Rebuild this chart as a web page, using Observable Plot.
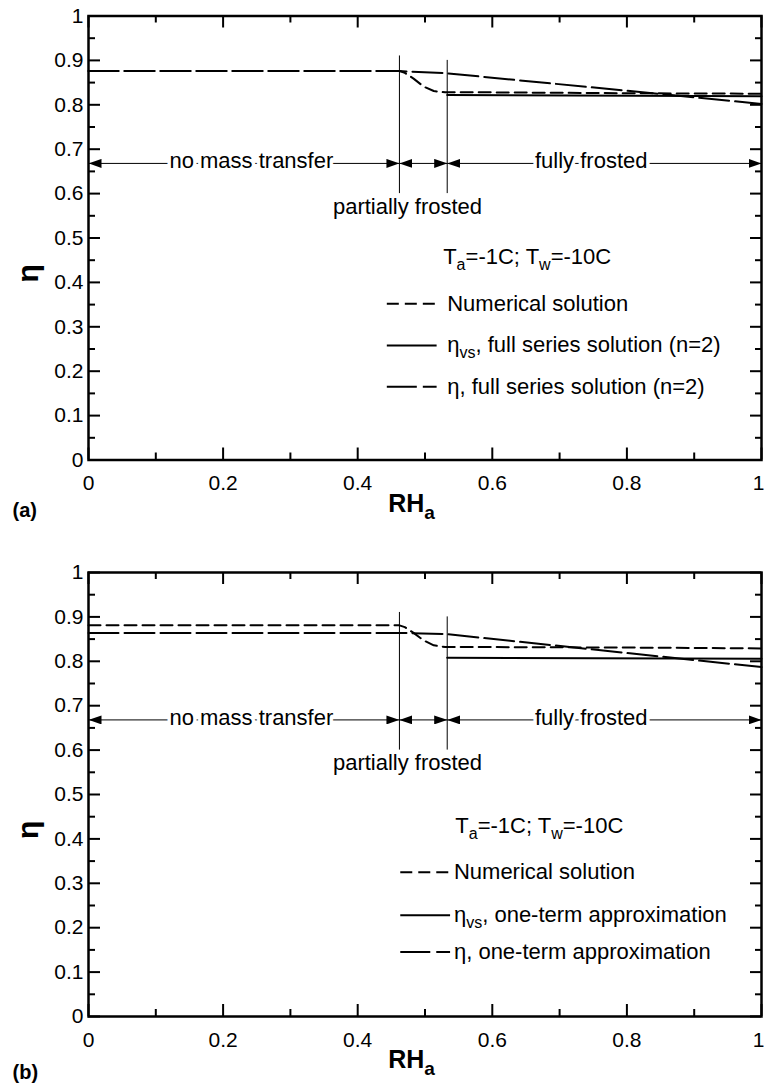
<!DOCTYPE html>
<html><head><meta charset="utf-8">
<script src="https://cdn.jsdelivr.net/npm/d3@7"></script>
<script src="https://cdn.jsdelivr.net/npm/@observablehq/plot@0.6"></script>
<style>
html,body{margin:0;padding:0;background:#fff;}
#chart svg{display:block;}
</style></head><body><div id="chart"></div>
<script>
// ---------- tick values / labels ----------
const xMajor = [0, 0.2, 0.4, 0.6, 0.8, 1];
const xMajorLabels = ["0", "0.2", "0.4", "0.6", "0.8", "1"];
const xMinor = [0.1, 0.3, 0.5, 0.7, 0.9];
const yMajor = [0, 0.1, 0.2, 0.3, 0.4, 0.5, 0.6, 0.7, 0.8, 0.9, 1];
const yMajorLabels = ["0", "0.1", "0.2", "0.3", "0.4", "0.5", "0.6", "0.7", "0.8", "0.9", "1"];
const yMinor = [0.05, 0.15, 0.25, 0.35, 0.45, 0.55, 0.65, 0.75, 0.85, 0.95];

// ---------- regimes ----------
const regionEdges = [0, 0.462, 0.533, 1];
const regionNames = ["no mass transfer", "partially frosted", "fully frosted"];

// ---------- panel (a) series ----------
const aNumRH  = [0, 0.462, 0.470, 0.483, 0.498, 0.513, 0.530, 0.600, 0.800, 1.000];
const aNumEta = [0.876, 0.876, 0.872, 0.859, 0.841, 0.831, 0.828, 0.828, 0.826, 0.825];
const aVsRH   = [0.533, 1.000];
const aVsEta  = [0.822, 0.819];
const aEtaRH  = [0, 0.462, 0.533, 1.000];
const aEtaEta = [0.876, 0.876, 0.871, 0.802];
const aLegend = ["Numerical solution", "η_{vs}, full series solution (n=2)", "η, full series solution (n=2)"];

// ---------- panel (b) series ----------
const bNumRH  = [0, 0.462, 0.470, 0.483, 0.498, 0.513, 0.530, 0.600, 0.800, 1.000];
const bNumEta = [0.881, 0.881, 0.877, 0.864, 0.847, 0.836, 0.832, 0.832, 0.831, 0.829];
const bVsRH   = [0.533, 1.000];
const bVsEta  = [0.808, 0.806];
const bEtaRH  = [0, 0.462, 0.533, 1.000];
const bEtaEta = [0.864, 0.864, 0.861, 0.787];
const bLegend = ["Numerical solution", "η_{vs}, one-term approximation", "η, one-term approximation"];

const conditions = "T_{a}=-1C; T_{w}=-10C";

// ---------- layout (positions / styles, not data) ----------
const FONT = "'Liberation Sans', Arial, Helvetica, sans-serif";
const dashes = ["12,6", "none", "30,6"];
const common = {arrowY: 0.668, vBottom: 0.60, vTops: [0.91, 0.90],
  labelX: [0.242, 0.474, 0.747], partialY: 0.57};

function toPts(xs, ys) { return xs.map((x, i) => ({x, y: ys[i]})); }

function panel(cfg) {
  const W = 764, H = 543;
  const pw = W - cfg.ml - cfg.mr, ph = H - cfg.mt - cfg.mb;
  const segs = regionEdges.slice(0, -1).map((x1, i) => ({x1, x2: regionEdges[i + 1]}));
  const fullLabels = [0, 2].map(i => ({x: common.labelX[i], text: regionNames[i]}));
  const rows = cfg.legend.map((t, i) => ({t, y: cfg.rowsY[i]}));
  const series = [toPts(cfg.numX, cfg.numY), toPts(cfg.vsX, cfg.vsY), toPts(cfg.etaX, cfg.etaY)];
  const nX = xMajor.length - 1;

  const marks = [
    // inward ticks on all four sides
    Plot.tickX(xMajor, {x: d => d, insetTop: ph - 12, strokeWidth: 2}),
    Plot.tickX(xMinor, {x: d => d, insetTop: ph - 7, strokeWidth: 2}),
    Plot.tickX(xMajor, {x: d => d, insetBottom: ph - 12, strokeWidth: 2}),
    Plot.tickX(xMinor, {x: d => d, insetBottom: ph - 7, strokeWidth: 2}),
    Plot.tickY(yMajor, {y: d => d, insetRight: pw - 12, strokeWidth: 2}),
    Plot.tickY(yMinor, {y: d => d, insetRight: pw - 7, strokeWidth: 2}),
    Plot.tickY(yMajor, {y: d => d, insetLeft: pw - 11, strokeWidth: 2}),
    Plot.tickY(yMinor, {y: d => d, insetLeft: pw - 6, strokeWidth: 2}),
    // data curves
    ...series.map((s, i) => Plot.line(s, {x: "x", y: "y", stroke: "black", strokeWidth: 2,
      strokeDasharray: dashes[i]})),
    // regime boundaries
    Plot.ruleX(regionEdges.slice(1, 3), {x: d => d, y1: common.vBottom, y2: (d, i) => common.vTops[i],
      stroke: "black", strokeWidth: 1}),
    // regime arrows
    Plot.link(segs, {x1: "x1", x2: "x2", y1: common.arrowY, y2: common.arrowY, stroke: "black", strokeWidth: 1}),
    Plot.text(fullLabels, {x: "x", y: common.arrowY, text: "text", fill: "black", stroke: "white",
      strokeWidth: 7, paintOrder: "stroke", fontSize: 22, dy: -2}),
    Plot.text([regionNames[1]], {x: common.labelX[1], y: common.partialY, text: d => d, fontSize: 22}),
    // legend
    Plot.text([conditions], {x: cfg.titleX, y: cfg.titleY, text: d => d, textAnchor: "start", fontSize: 22}),
    ...rows.map((r, i) => Plot.ruleY([r], {y: "y", x1: cfg.lx1, x2: cfg.lx2, stroke: "black", strokeWidth: 2,
      strokeDasharray: dashes[i]})),
    Plot.text(rows, {x: cfg.ltx, y: "y", text: "t", textAnchor: "start", fontSize: 22}),
    // tick labels
    Plot.text(xMajor.slice(0, nX), {x: d => d, text: (d, i) => xMajorLabels[i], frameAnchor: "bottom",
      lineAnchor: "top", dy: 15.5, fontSize: 21}),
    Plot.text(xMajor.slice(nX), {x: d => d, text: () => xMajorLabels[nX], frameAnchor: "bottom",
      lineAnchor: "top", textAnchor: "end", dx: 3, dy: 15.5, fontSize: 21}),
    Plot.text(yMajor, {y: d => d, text: (d, i) => yMajorLabels[i], frameAnchor: "left", textAnchor: "end",
      dx: -5, fontSize: 21}),
    // axis labels
    Plot.text(["RH_{a}"], {x: 0.48, text: d => d, frameAnchor: "bottom", dy: cfg.rhDy, fontSize: 25, fontWeight: "bold"}),
    Plot.text(["η"], {y: 0.4, text: d => d, frameAnchor: "left", dx: -60, rotate: -90, fontSize: 30, fontWeight: "bold"}),
    Plot.text([cfg.tag], {text: d => d, frameAnchor: "bottom-left", textAnchor: "start", dx: -76, dy: cfg.tagDy,
      fontSize: 20, fontWeight: "bold"}),
    Plot.frame({stroke: "black", strokeWidth: 2.5})
  ];

  return Plot.plot({
    width: W, height: H,
    marginLeft: cfg.ml, marginRight: cfg.mr, marginTop: cfg.mt, marginBottom: cfg.mb,
    x: {domain: [0, 1], axis: null},
    y: {domain: [0, 1], axis: null},
    style: {fontFamily: FONT, background: "white", color: "black", overflow: "visible"},
    marks
  });
}

function finish(svg, id) {
  const ns = "http://www.w3.org/2000/svg";
  const defs = document.createElementNS(ns, "defs");
  defs.innerHTML = `<marker id="${id}" viewBox="0 -4.5 13 9" refX="13" refY="0" markerWidth="13" markerHeight="9" markerUnits="userSpaceOnUse" orient="auto-start-reverse"><path d="M0,-4.5L13,0L0,4.5Z" fill="black"></path></marker>`;
  svg.insertBefore(defs, svg.firstChild);
  svg.querySelectorAll('g[aria-label="link"] path').forEach(p => {
    p.setAttribute("marker-start", `url(#${id})`);
    p.setAttribute("marker-end", `url(#${id})`);
  });
  // subscripts
  svg.querySelectorAll("text").forEach(t => {
    const s = t.textContent;
    if (!s.includes("_{")) return;
    const fs = parseFloat(getComputedStyle(t).fontSize) || 20;
    const off = Math.round(fs * 0.28);
    const parts = s.split(/_\{([^}]*)\}/);
    t.textContent = "";
    let shifted = false;
    parts.forEach((p, i) => {
      if (p === "") return;
      const ts = document.createElementNS(ns, "tspan");
      ts.textContent = p;
      if (i % 2 === 1) {
        ts.setAttribute("dy", off);
        ts.setAttribute("font-size", Math.round(fs * 0.74));
        shifted = true;
      } else if (shifted) {
        ts.setAttribute("dy", -off);
        shifted = false;
      }
      t.appendChild(ts);
    });
  });
}

const cfgA = {ml: 88, mr: 3, mt: 15.5, mb: 83.5,
  numX: aNumRH, numY: aNumEta, vsX: aVsRH, vsY: aVsEta, etaX: aEtaRH, etaY: aEtaEta,
  legend: aLegend, rowsY: [0.352, 0.258, 0.165], lx1: 0.444, lx2: 0.518, ltx: 0.533,
  titleX: 0.527, titleY: 0.457, rhDy: 51.5, tag: "(a)", tagDy: 57};
const cfgB = {ml: 88, mr: 3, mt: 29, mb: 70,
  numX: bNumRH, numY: bNumEta, vsX: bVsRH, vsY: bVsEta, etaX: bEtaRH, etaY: bEtaEta,
  legend: bLegend, rowsY: [0.325, 0.228, 0.145], lx1: 0.464, lx2: 0.538, ltx: 0.543,
  titleX: 0.545, titleY: 0.43, rhDy: 51.5, tag: "(b)", tagDy: 62};

const host = document.getElementById("chart");
const s1 = panel(cfgA); host.appendChild(s1); finish(s1, "ahA");
const s2 = panel(cfgB); host.appendChild(s2); finish(s2, "ahB");
</script></body></html>
